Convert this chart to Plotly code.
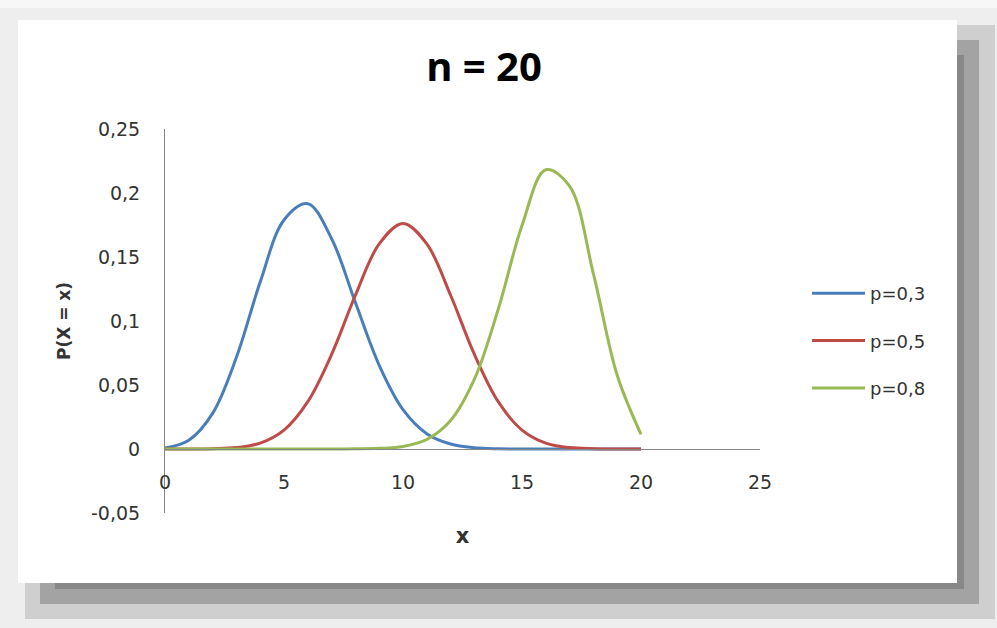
import plotly.graph_objects as go

# binomial probabilities, n = 20
k = [0, 1, 2, 3, 4, 5, 6, 7, 8, 9, 10, 11, 12, 13, 14, 15, 16, 17, 18, 19, 20]
p03 = [0.0008, 0.0068, 0.0278, 0.0716, 0.1304, 0.1789, 0.1916, 0.1643, 0.1144, 0.0654, 0.0308,
       0.0120, 0.0039, 0.0010, 0.0002, 0.0000, 0.0, 0.0, 0.0, 0.0, 0.0]
p05 = [0.0000, 0.0000, 0.0002, 0.0011, 0.0046, 0.0148, 0.0370, 0.0739, 0.1201, 0.1602, 0.1762,
       0.1602, 0.1201, 0.0739, 0.0370, 0.0148, 0.0046, 0.0011, 0.0002, 0.0000, 0.0000]
p08 = [0.0, 0.0, 0.0, 0.0, 0.0, 0.0, 0.0, 0.0000, 0.0001, 0.0005, 0.0020,
       0.0074, 0.0222, 0.0545, 0.1091, 0.1746, 0.2182, 0.2054, 0.1369, 0.0576, 0.0115]

series_names = ["p=0,3", "p=0,5", "p=0,8"]
colors = ["#4A7EBB", "#BE4B48", "#98B954"]

y_tickvals = [-0.05, 0, 0.05, 0.1, 0.15, 0.2, 0.25]
y_ticktext = ["-0,05", "0", "0,05", "0,1", "0,15", "0,2", "0,25"]
x_tickvals = [0, 5, 10, 15, 20, 25]

W, H = 997, 628
L, R, T, B = 165, 237, 129, 115
pw, ph = W - L - R, H - T - B


def px(x):
    return (x - L) / pw


def py(y):
    return (H - B - y) / ph


def rect(x0, y0, x1, y1, color):
    return dict(type="rect", xref="paper", yref="paper", layer="below",
                x0=px(x0), x1=px(x1), y0=py(y0), y1=py(y1),
                fillcolor=color, line=dict(width=0))


# chart area with the Excel-like drop shadow
shapes = [
    rect(0, 8, 997, 628, "#eeeeee"),
    rect(25, 25, 995, 619, "#cfcfcf"),
    rect(40, 40, 979, 604, "#a3a3a3"),
    rect(55, 55, 964, 589, "#888888"),
    rect(18, 20, 957, 583, "#ffffff"),
]

fig = go.Figure()
for ys, name, c in zip([p03, p05, p08], series_names, colors):
    fig.add_trace(go.Scatter(x=k, y=ys, name=name, mode="lines", legendgroup=name,
                             line=dict(color=c, width=3, shape="spline", smoothing=1)))

txt = "#333333"
fig.update_layout(
    width=W, height=H,
    margin=dict(l=L, r=R, t=T, b=B),
    paper_bgcolor="#f7f7f7",
    plot_bgcolor="rgba(0,0,0,0)",
    separators=", ",
    font=dict(family="DejaVu Sans", size=19, color=txt),
    shapes=shapes,
    title=dict(text="<b>n = 20</b>", xref="container", x=484 / W, xanchor="center",
               yref="container", y=1 - 67 / H, yanchor="middle",
               font=dict(family="Open Sans", size=40, color="#000000")),
    legend=dict(x=px(807), xanchor="left", y=py(341), yanchor="middle",
                traceorder="grouped", tracegroupgap=21, itemwidth=53,
                bgcolor="rgba(0,0,0,0)", font=dict(size=18, color=txt)),
    xaxis=dict(range=[0, 25], tickvals=x_tickvals, showgrid=False, zeroline=False,
               showline=True, linecolor="#868686", linewidth=1, ticks="",
               anchor="free", position=0.05 / 0.30, ticklabelstandoff=16,
               title=dict(text="<b>x</b>", standoff=36, font=dict(size=21, color=txt))),
    yaxis=dict(range=[-0.05, 0.25], tickvals=y_tickvals, ticktext=y_ticktext,
               showgrid=False, zeroline=False, showline=True, linecolor="#868686",
               linewidth=1, ticks="", ticklabelstandoff=20,
               title=dict(text="<b>P(X = x)</b>", standoff=16, font=dict(size=17, color=txt))),
)

fig.write_html("out.html", config={"displayModeBar": False},
               post_script="document.body.style.margin='0';")
